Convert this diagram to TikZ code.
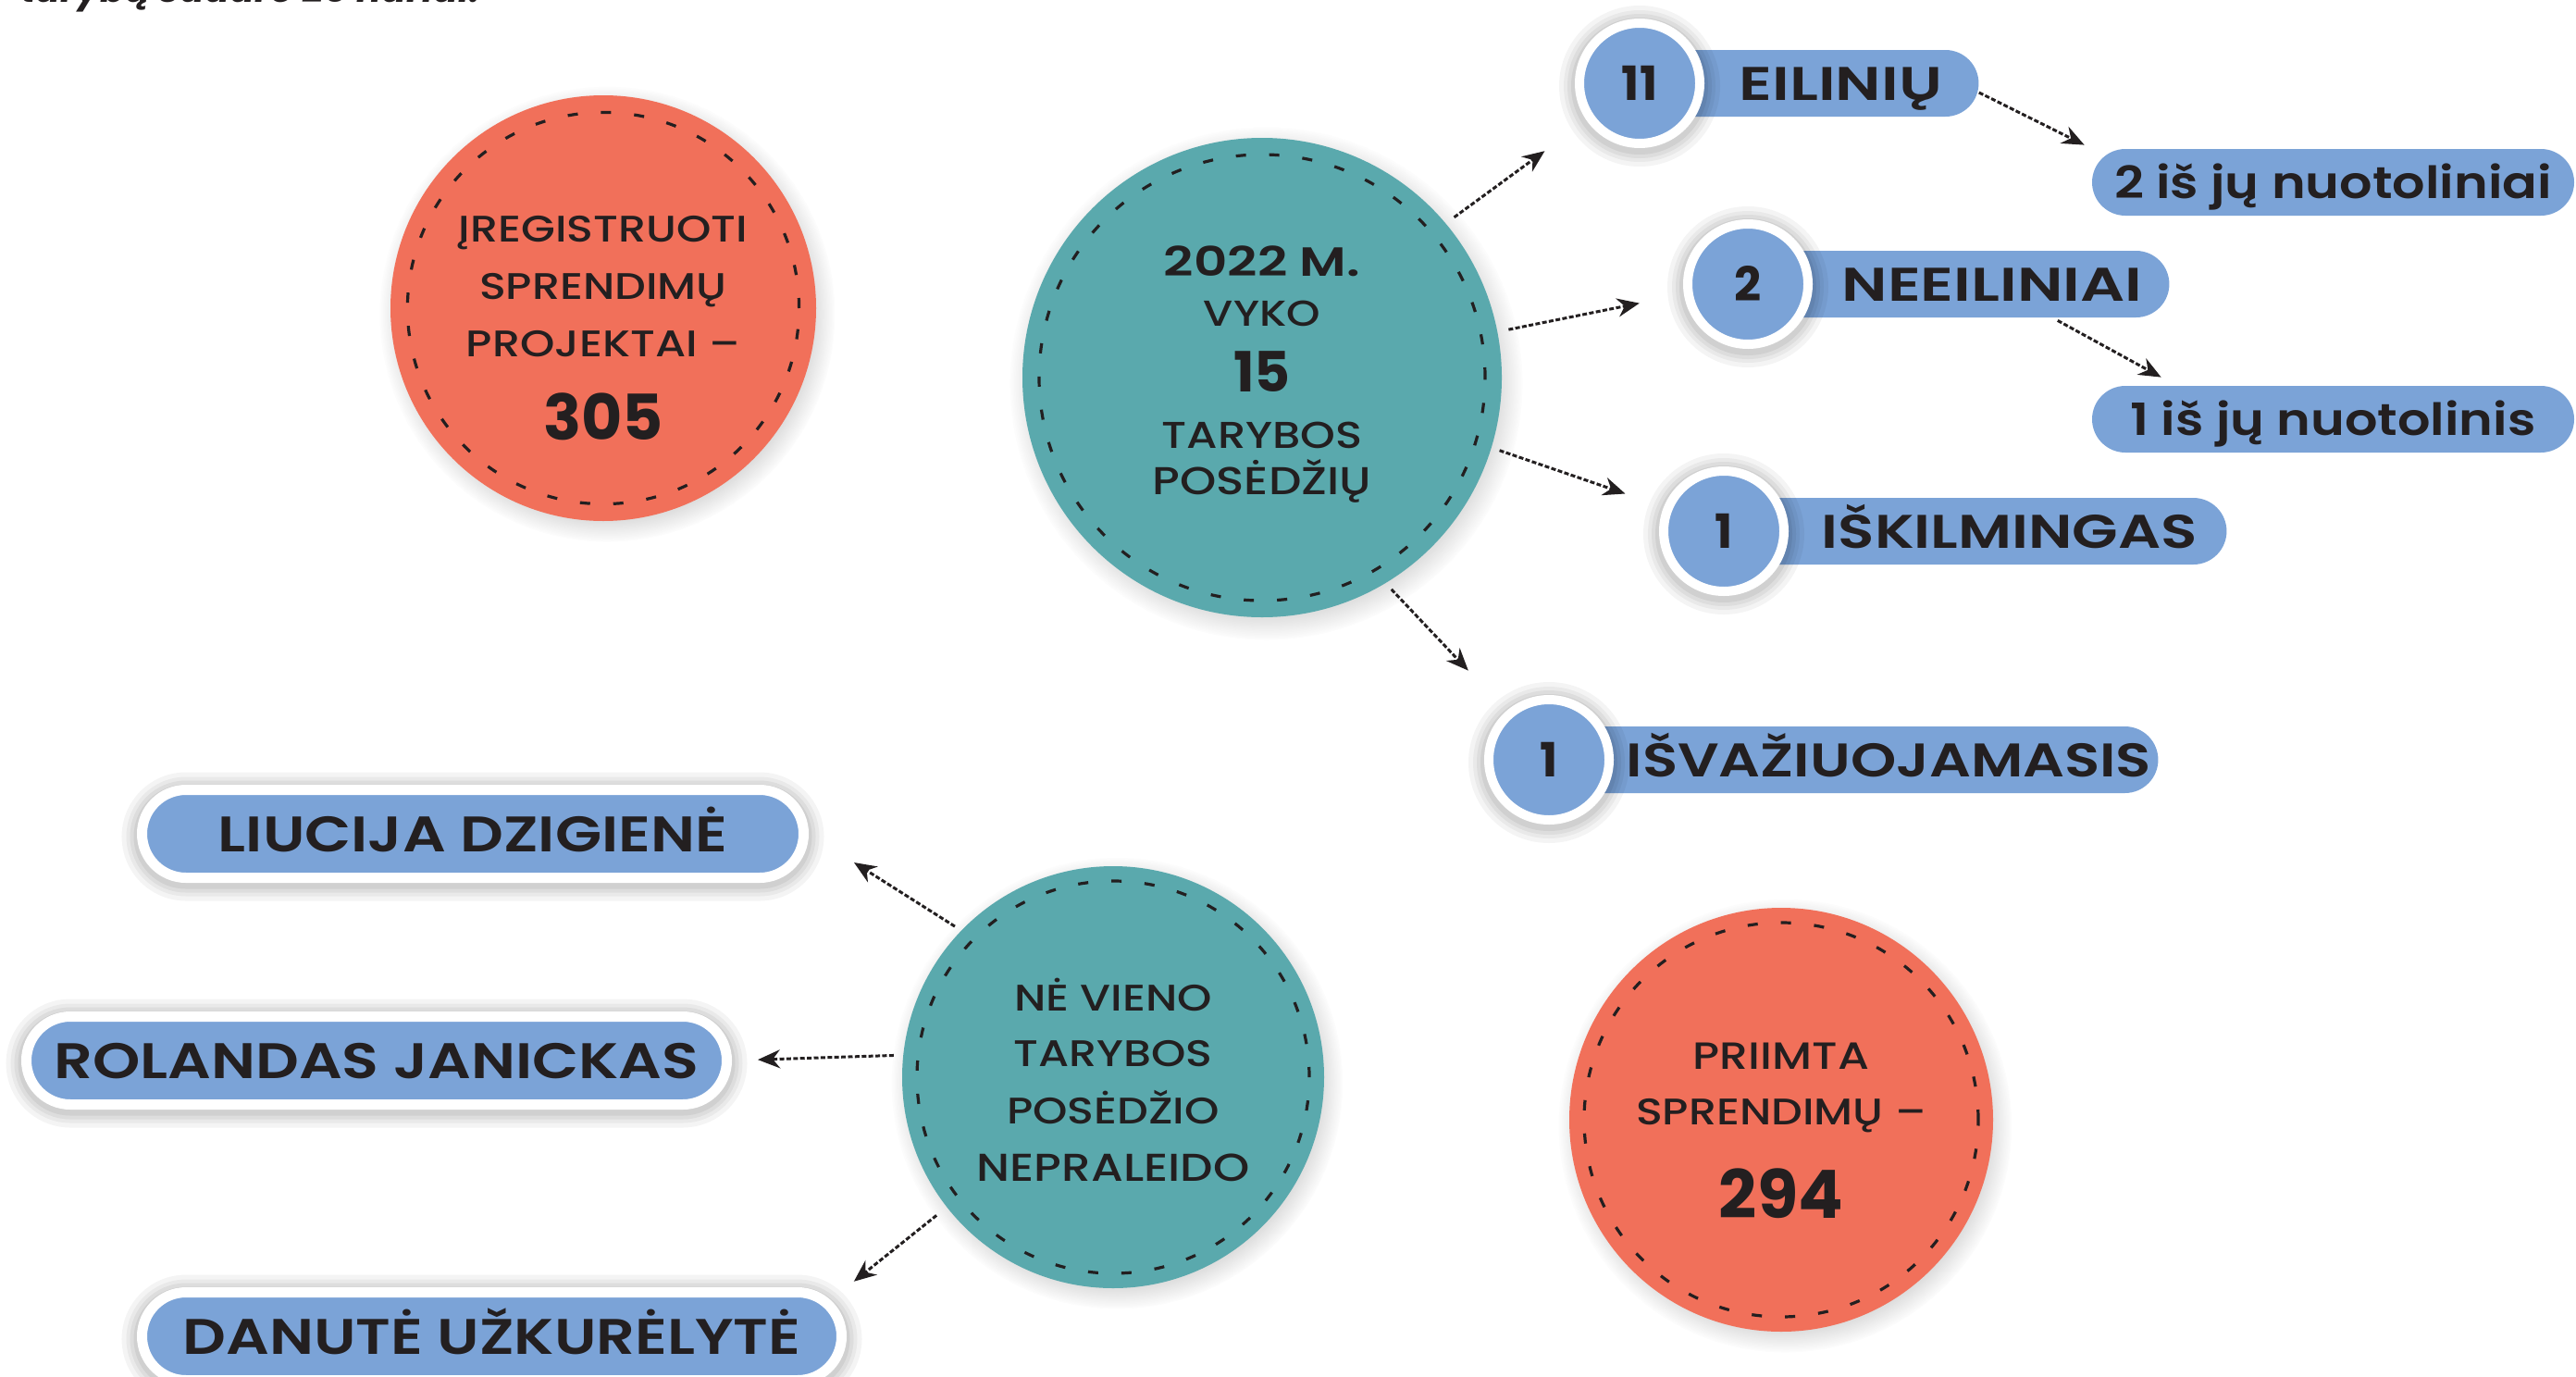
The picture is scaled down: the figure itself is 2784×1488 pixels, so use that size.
\documentclass[tikz,border=0pt]{standalone}
\usepackage{fontspec}
\setmainfont{Poppins}
\IfFontExistsTF{Poppins Medium}{\newfontfamily\fmed{Poppins Medium}[FakeStretch=1.19]}{\newfontfamily\fmed{Poppins}[FakeStretch=1.19]}
\IfFontExistsTF{Poppins SemiBold}{%
  \newfontfamily\fsemi{Poppins SemiBold}[FakeStretch=1.16]%
  \newfontfamily\fpillA{Poppins SemiBold}[FakeStretch=1.32]%
  \newfontfamily\fpillB{Poppins SemiBold}[FakeStretch=1.265]%
  \newfontfamily\fpillC{Poppins SemiBold}[FakeStretch=1.23]%
  \newfontfamily\fname{Poppins SemiBold}[FakeStretch=1.21]%
  \newfontfamily\fyear{Poppins SemiBold}[FakeStretch=1.28]}{%
  \newfontfamily\fsemi{Poppins}[UprightFont=* Bold,FakeStretch=1.14]%
  \newfontfamily\fpillA{Poppins}[UprightFont=* Bold,FakeStretch=1.28]%
  \newfontfamily\fpillB{Poppins}[UprightFont=* Bold,FakeStretch=1.23]%
  \newfontfamily\fpillC{Poppins}[UprightFont=* Bold,FakeStretch=1.19]%
  \newfontfamily\fname{Poppins}[UprightFont=* Bold,FakeStretch=1.18]%
  \newfontfamily\fyear{Poppins}[UprightFont=* Bold,FakeStretch=1.25]}
\usetikzlibrary{shadows,fadings,arrows.meta,calc}
\definecolor{corange}{HTML}{F1705A}
\definecolor{cteal}{HTML}{5AA9AD}
\definecolor{cblue}{HTML}{7BA3D7}
\definecolor{cink}{HTML}{231F20}
\begin{document}
\begin{tikzpicture}[x=0.5pt,y=-0.5pt,
  softshadow/.style={circular drop shadow={shadow xshift=2pt, shadow yshift=-3pt, shadow scale=1.07, fill=black!70, opacity=0.28}},
  glow/.style={
    preaction={draw=black, opacity=0.045, line width=22pt, transform canvas={yshift=-1.5pt}},
    preaction={draw=black, opacity=0.045, line width=17pt, transform canvas={yshift=-1.5pt}},
    preaction={draw=black, opacity=0.05, line width=13pt, transform canvas={yshift=-1.5pt}},
    preaction={draw=black, opacity=0.06, line width=9pt, transform canvas={yshift=-1.5pt}}},
  disc/.style={circle, inner sep=0pt, softshadow},
  ring/.style={draw=cink, line width=1.6pt, dash pattern=on 5.5pt off 12.5pt},
  ctext/.style={anchor=base, inner sep=0pt, text=cink, font=\fmed\fontsize{20}{22}\selectfont},
  cbig/.style={ctext, font=\bfseries\fontsize{34}{36}\selectfont},
  pill/.style={rectangle, fill=cblue, rounded corners=18pt, minimum height=36pt, inner sep=0pt,
    text height=18pt, text depth=0pt, text=cink, font=\fpillA\fontsize{25.5}{27}\selectfont},
  subpill/.style={pill, minimum width=260.5pt, font=\fsemi\fontsize{24}{26}\selectfont, text height=17pt},
  badge/.style={circle, fill=cblue, draw=white, line width=5pt, minimum size=65pt, inner sep=0pt,
    text height=18pt, text depth=0pt, text=cink, font=\bfseries\fontsize{25.5}{27}\selectfont, glow},
  namepill/.style={rectangle, fill=cblue, draw=white, line width=5.5pt, rounded corners=23.75pt,
    minimum height=47.5pt, inner sep=0pt, text height=19pt, text depth=0pt, text=cink,
    font=\fname\fontsize{27}{29}\selectfont, glow},
  arr/.style={draw=cink, line width=1.5pt, dash pattern=on 2.5pt off 1.2pt, -{Stealth[length=12pt,width=10pt]}}
]
\useasboundingbox (0,0) rectangle (2784,1488);
\fill[white] (0,0) rectangle (2784,1488);

% partially visible heading
\node[anchor=base west, inner sep=0pt, text=cink, font=\bfseries\itshape\fontsize{20}{22}\selectfont] (hdr) at (22,3) {tarybą sudaro 25 nariai.};

% big circles
\node[disc, fill=corange, minimum size=230pt] (o1) at (652,333) {};
\node[disc, fill=cteal, minimum size=259pt] (t1) at (1364,408) {};
\node[disc, fill=cteal, minimum size=228pt] (t2) at (1203,1164) {};
\node[disc, fill=corange, minimum size=229pt] (o2) at (1925,1210) {};
\draw[ring] (o1.center) circle[radius=105.8pt];
\draw[ring] (t1.center) circle[radius=120.5pt];
\draw[ring] (t2.center) circle[radius=106pt];
\draw[ring] (o2.center) circle[radius=106.5pt];

% circle texts
\node[ctext] (o1a) at (652,261.5) {ĮREGISTRUOTI};
\node[ctext] (o1b) at (652,323) {SPRENDIMŲ};
\node[ctext] (o1c) at (652,385) {PROJEKTAI –};
\node[cbig] (o1d) at (652,475.5) {305};

\node[ctext, font=\fyear\fontsize{22}{24}\selectfont] (t1a) at (1364,298) {2022 M.};
\node[ctext, font=\fmed\fontsize{19.5}{21}\selectfont] (t1b) at (1364,352) {VYKO};
\node[ctext, font=\bfseries\fontsize{30}{32}\selectfont] (t1c) at (1364,423) {15};
\node[ctext, font=\fmed\fontsize{20.2}{22}\selectfont] (t1d) at (1364,484) {TARYBOS};
\node[ctext, font=\fmed\fontsize{21}{23}\selectfont] (t1e) at (1364,534) {POSĖDŽIŲ};

\node[ctext] (t2a) at (1203,1092.7) {NĖ VIENO};
\node[ctext] (t2b) at (1203,1152.3) {TARYBOS};
\node[ctext] (t2c) at (1203,1214) {POSĖDŽIO};
\node[ctext, font=\fmed\fontsize{21}{23}\selectfont] (t2d) at (1203,1276) {NEPRALEIDO};

\node[ctext, font=\fmed\fontsize{20.5}{23}\selectfont] (o2a) at (1925,1155.3) {PRIIMTA};
\node[ctext] (o2b) at (1925,1215) {SPRENDIMŲ –};
\node[cbig, font=\bfseries\fontsize{36}{38}\selectfont] (o2c) at (1925,1316) {294};

% pills with badges
\coordinate (c11) at (1772,90);
\coordinate (c2) at (1889,307);
\coordinate (c1a) at (1863,574);
\coordinate (c1b) at (1674,821);
\node[pill, anchor=west, minimum width=183pt] (p11) at (c11) {\hspace*{34pt}EILINIŲ};
\node[pill, anchor=west, minimum width=227.5pt] (p2) at (c2) {\hspace*{36pt}NEEILINIAI};
\node[pill, anchor=west, minimum width=271.5pt, font=\fpillB\fontsize{25.5}{27}\selectfont] (p1a) at (c1a) {\hspace*{37pt}IŠKILMINGAS};
\node[pill, anchor=west, minimum width=329pt, font=\fpillC\fontsize{25.5}{27}\selectfont] (p1b) at (c1b) {\hspace*{38pt}IŠVAŽIUOJAMASIS};
\node[badge] (b11) at (c11) {11};
\node[badge] (b2) at (c2) {2};
\node[badge] (b1a) at (c1a) {1};
\node[badge] (b1b) at (c1b) {1};

\node[subpill] (s1) at (2521.5,197) {2 iš jų nuotoliniai};
\node[subpill] (s2) at (2521.5,453) {1 iš jų nuotolinis};

% name pills
\node[namepill, minimum width=357.5pt] (lz) at (511,901) {LIUCIJA DZIGIENĖ};
\node[namepill, minimum width=378.5pt] (rj) at (407,1146) {ROLANDAS JANICKAS};
\node[namepill, minimum width=378pt] (dz) at (531.5,1444) {DANUTĖ UŽKURĖLYTĖ};

% arrows
\draw[arr, shorten <=5.5pt, shorten >=28pt] (t1.40.9) -- (b11.215.3);
\draw[arr, shorten <=6pt, shorten >=24.5pt] (t1.11.5) -- (b2.189.6);
\draw[arr, shorten <=4.5pt, shorten >=22pt] (t1.-17.8) -- (b1a.158.4);
\draw[arr, shorten <=4.5pt, shorten >=30pt] (t1.-59.7) -- (b1b.131.1);
\draw[arr] ([yshift=-5pt]p11.east) -- ([xshift=-4pt,yshift=2pt]s1.north west);
\draw[arr] ([xshift=-60.5pt,yshift=-1.5pt]p2.south east) -- ([xshift=37.5pt,yshift=4.5pt]s2.north west);
\draw[arr, shorten <=4pt, shorten >=29pt] (t2.136.9) -- (lz.east);
\draw[arr, shorten <=5pt, shorten >=14pt] (t2.174.5) -- (rj.east);
\draw[arr, shorten <=7pt, shorten >=5pt] (t2.218.2) -- (dz.north east);
\end{tikzpicture}
\end{document}
